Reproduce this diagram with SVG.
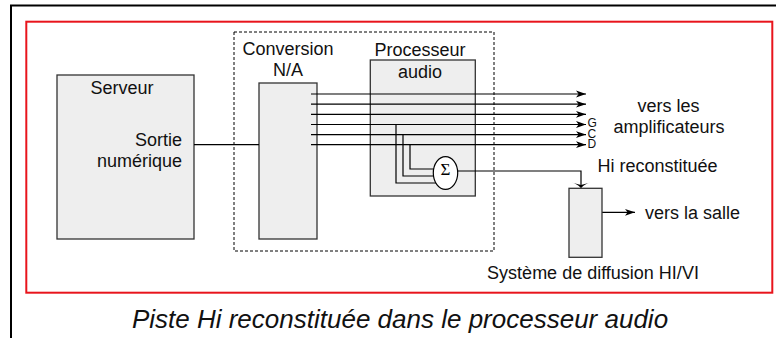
<svg xmlns="http://www.w3.org/2000/svg" width="776" height="338" viewBox="0 0 776 338">
  <style>
    .lbl { font-family: "Liberation Sans", Arial, sans-serif; font-size: 18px; fill: #111; }
    .mid { text-anchor: middle; }
    .end { text-anchor: end; }
    .ch { font-family: "Liberation Sans", Arial, sans-serif; font-size: 12px; fill: #111; }
    .box { fill: #eeeeee; stroke: #333; stroke-width: 1.3; }
    .wire { fill: none; stroke: #000; stroke-width: 1.2; }
    .cap { font-family: "Liberation Sans", Arial, sans-serif; font-size: 26px; font-style: italic; fill: #111; text-anchor: middle; }
  </style>
  <defs>
    <marker id="head" markerUnits="userSpaceOnUse" markerWidth="10" markerHeight="8" viewBox="0 0 10 8" refX="10" refY="4" orient="auto">
      <path d="M0,0.6 L10,4 L0,7.4 L2.6,4 z" fill="#000"/>
    </marker>
  </defs>

  <rect width="776" height="338" fill="#fff"/>

  <!-- outer page frame (top and left edges) -->
  <path d="M11,338 V5.5 H776" fill="none" stroke="#000" stroke-width="2"/>

  <!-- red framing rectangle -->
  <rect x="26.3" y="21.7" width="746" height="271" fill="none" stroke="#e8141c" stroke-width="2"/>

  <!-- conversion enclosure -->
  <g id="conversion-zone">
    <rect x="234" y="32" width="260" height="219" fill="none" stroke="#000" stroke-width="1" stroke-dasharray="3,2"/>
    <text class="lbl mid" x="288" y="55">Conversion</text>
    <text class="lbl mid" x="288" y="76">N/A</text>
  </g>

  <g id="serveur">
    <rect class="box" x="57" y="75" width="137" height="164"/>
    <text class="lbl mid" x="122" y="94">Serveur</text>
    <text class="lbl end" x="182" y="146">Sortie</text>
    <text class="lbl end" x="182" y="166.5">numérique</text>
  </g>

  <g id="convertisseur">
    <rect class="box" x="259" y="83" width="58" height="156"/>
  </g>

  <g id="processeur">
    <rect class="box" x="370.3" y="60" width="105" height="136"/>
    <text class="lbl mid" x="420" y="56">Processeur</text>
    <text class="lbl mid" x="420" y="78">audio</text>
  </g>

  <g id="connectors">
    <!-- digital output into the converter -->
    <path class="wire" d="M194,144.6 H259"/>
    <!-- six analog channels towards the amplifiers -->
    <path class="wire" d="M311,94 H586" marker-end="url(#head)"/>
    <path class="wire" d="M311,104.2 H586" marker-end="url(#head)"/>
    <path class="wire" d="M311,114.3 H586" marker-end="url(#head)"/>
    <path class="wire" d="M311,124.5 H586" marker-end="url(#head)"/>
    <path class="wire" d="M311,134.6 H586" marker-end="url(#head)"/>
    <path class="wire" d="M311,144.7 H586" marker-end="url(#head)"/>
    <!-- G, C, D taps into the summing node -->
    <path class="wire" d="M396,124.5 V183 H440"/>
    <path class="wire" d="M403,134.6 V176 H440"/>
    <path class="wire" d="M410,144.7 V169 H440"/>
    <!-- summed Hi track to the diffusion system -->
    <path class="wire" d="M457.7,171 H581 V186"/>
    <path d="M581,188.3 Q577,183.6 571.5,182.6 L581,185 L590.5,182.6 Q585,183.6 581,188.3 z" fill="#000"/>
    <!-- output to the room -->
    <path class="wire" d="M602,212.3 H635" marker-end="url(#head)"/>
  </g>

  <g id="sommateur">
    <ellipse cx="445.5" cy="173" rx="12.2" ry="16.3" fill="#fff" stroke="#000" stroke-width="1.2"/>
    <text x="445.5" y="174.5" font-family="Liberation Serif, 'Times New Roman', serif" font-size="17" text-anchor="middle" fill="#000">Σ</text>
  </g>

  <g id="diffusion">
    <rect class="box" x="569" y="188.3" width="33" height="69"/>
    <text class="lbl mid" x="593" y="279">Système de diffusion HI/VI</text>
  </g>

  <g id="sorties">
    <text class="ch" x="587.5" y="127">G</text>
    <text class="ch" x="587.5" y="137.5">C</text>
    <text class="ch" x="587.5" y="148">D</text>
    <text class="lbl mid" x="668.5" y="112">vers les</text>
    <text class="lbl mid" x="669" y="132.5">amplificateurs</text>
    <text class="lbl" x="597.5" y="172">Hi reconstituée</text>
    <text class="lbl" x="645" y="218.5">vers la salle</text>
  </g>

  <text class="cap" x="400" y="328">Piste Hi reconstituée dans le processeur audio</text>
</svg>
